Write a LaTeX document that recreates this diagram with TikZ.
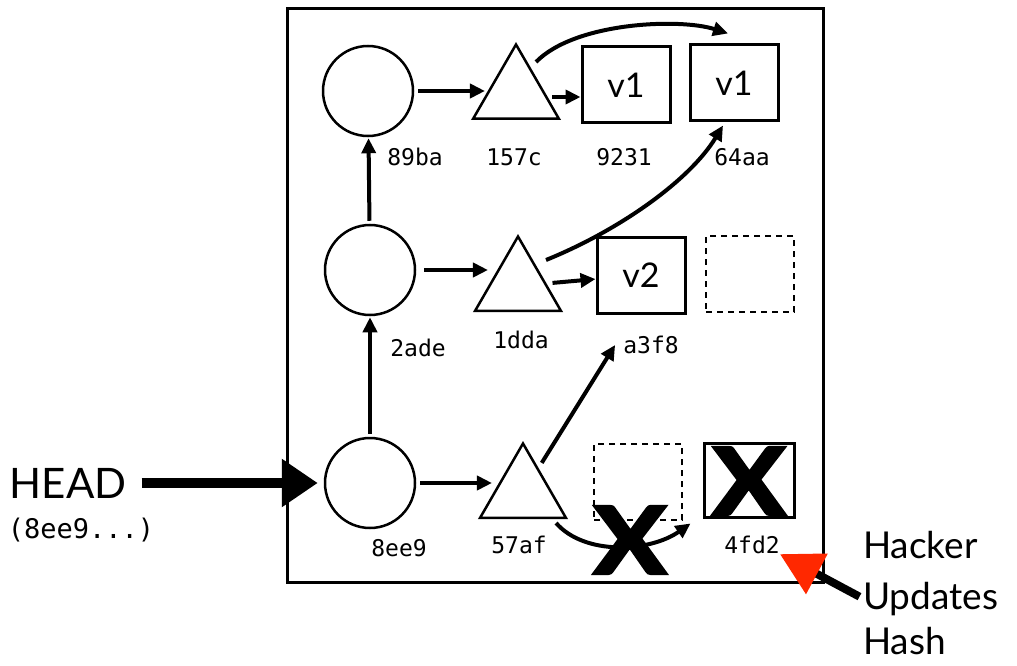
\documentclass[tikz,border=0pt]{standalone}
\usepackage{fontspec}
\setmainfont{Lato}
\setmonofont{DejaVu Sans Mono}
\newfontfamily\xfont{Lato}[BoldFeatures={FakeBold=4}]
\usetikzlibrary{arrows.meta,shapes.geometric}
\definecolor{hackred}{RGB}{255,40,0}
\tikzset{
  commit/.style={circle, draw, line width=2.5, minimum size=90, inner sep=0},
  treeobj/.style={regular polygon, regular polygon sides=3, draw, line width=2.5, minimum size=99, inner sep=0},
  blob/.style={rectangle, draw, line width=3, minimum width=88, minimum height=76, inner sep=0, font=\fontsize{34}{38}\selectfont},
  ghost/.style={rectangle, draw, line width=2.5, dash pattern=on 6pt off 5pt, minimum width=88, minimum height=76, inner sep=0},
  hashlbl/.style={font=\ttfamily\fontsize{23}{26}\selectfont, inner sep=0},
  link/.style={line width=4, -{Triangle[length=15pt,width=14pt]}},
  cross/.style={font=\xfont\bfseries\fontsize{92}{92}\selectfont, inner sep=0, xscale=1.15},
  bigtext/.style={font=\fontsize{37}{41}\selectfont, inner sep=0}
}
\begin{document}
\begin{tikzpicture}[x=1pt,y=-1pt]
\useasboundingbox (0,0) rectangle (1017,666);
\node[draw, line width=3, minimum width=536, minimum height=573, inner sep=0] (frame) at (555,295.5) {};
% commits
\node[commit] (c1) at (368,91) {};
\node[commit] (c2) at (370,270) {};
\node[commit] (c3) at (370,483) {};
\node[hashlbl] (l89ba) at (415,157) {89ba};
\node[hashlbl] (l2ade) at (418,348) {2ade};
\node[hashlbl] (l8ee9) at (399,548) {8ee9};
% trees
\node[treeobj] (t1) at (516,94) {};
\node[treeobj] (t2) at (518,286) {};
\node[treeobj] (t3) at (523,493) {};
\node[hashlbl] (l157c) at (514,157) {157c};
\node[hashlbl] (l1dda) at (521,340) {1dda};
\node[hashlbl] (l57af) at (519,545) {57af};
% blobs
\node[blob] (b9231) at (626,85) {v1};
\node[blob] (b64aa) at (734,83) {v1};
\node[blob] (ba3f8) at (641,275) {v2};
\node[ghost] (gmid) at (750,274) {};
\node[ghost] (gbot) at (638,482) {};
\node[draw, line width=3, minimum width=90, minimum height=74, inner sep=0] (b4fd2) at (749,480) {};
\node[hashlbl] (l9231) at (624,157) {9231};
\node[hashlbl] (l64aa) at (742,157) {64aa};
\node[hashlbl] (la3f8) at (651,345) {a3f8};
\node[hashlbl] (l4fd2) at (752,545) {4fd2};
% connectors
\draw[link, shorten <=3pt, shorten >=1pt] (c3) -- (c2);
\draw[link, shorten <=3pt, shorten >=1pt] (c2) -- (c1);
\draw[link, shorten <=4pt, shorten >=1pt] (c1.east) -- (t1.west |- c1.east);
\draw[link, shorten <=8pt, shorten >=0pt] (c2.east) -- (t2.west |- c2.east);
\draw[link, shorten <=4pt, shorten >=1pt] (c3.east) -- (t3.west |- c3.east);
\draw[link, shorten <=6pt] ([yshift=-3pt]t1.east) -- ([yshift=-3pt]b9231.west |- t1.east);
\draw[link, shorten <=6pt] (t2) -- (ba3f8);
\draw[link, shorten <=6pt] (t3) -- ([xshift=-8pt]la3f8.west);
\draw[link] ([shift={(5pt,6pt)}]t1.60) .. controls (575,22) and (680,18) .. ([xshift=-6pt,yshift=10pt]b64aa.north);
\draw[link] ([xshift=13pt]t2.60) .. controls (620,230) and (690,180) .. ([xshift=-11pt,yshift=-3pt]b64aa.south);
\draw[link] ([shift={(-12pt,-4pt)}]t3.corner 3) .. controls (585,556) and (650,552) .. ([shift={(-12pt,-5pt)}]b4fd2.south west);
% crosses
\node[cross] (x1) at (630,540) {X};
\node[cross] (x2) at (749,481) {X};
% HEAD
\node[font=\fontsize{42}{46}\selectfont, inner sep=0] (head) at (68,483) {HEAD};
\node[font=\ttfamily\fontsize{27}{30}\selectfont, inner sep=0] (headhash) at (81,530) {(8ee9...)};
\draw[line width=10, -{Triangle[length=36pt,width=46pt]}, shorten <=15pt, shorten >=6pt] (head) -- (c3);
% Hacker
\node[bigtext, anchor=base west] (hk1) at (863,558) {Hacker};
\node[bigtext, anchor=base west] (hk2) at (863,609) {Updates};
\node[bigtext, anchor=base west] (hk3) at (863,654) {Hash};
\draw[line width=8, -{Triangle[length=42pt,width=44pt,hackred]}, shorten <=4pt] (hk2.west) -- (l4fd2.south east);
\end{tikzpicture}
\end{document}
